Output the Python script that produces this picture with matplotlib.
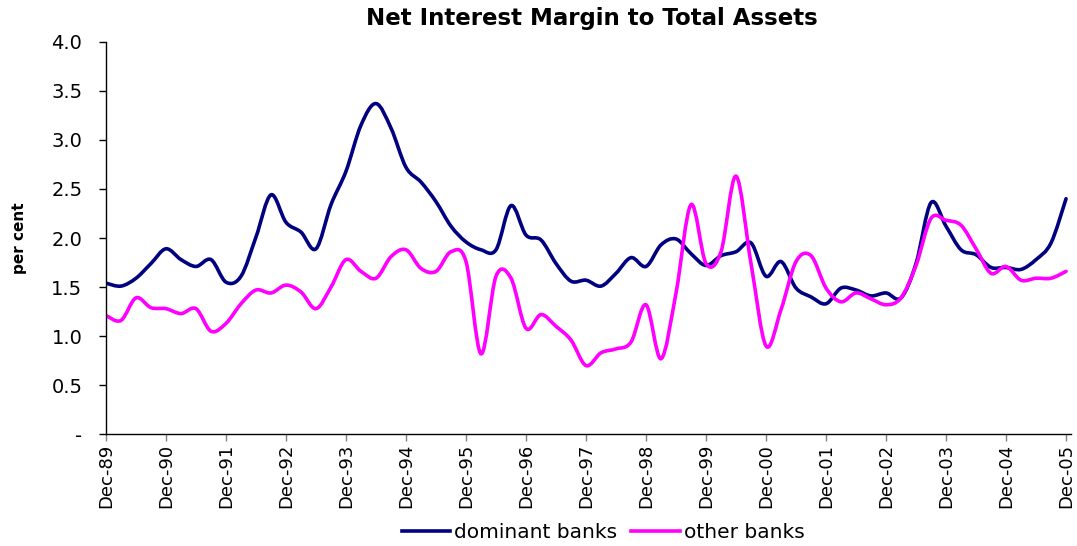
import matplotlib
matplotlib.use("Agg")
import matplotlib.pyplot as plt
from matplotlib.path import Path
from matplotlib.patches import PathPatch
from matplotlib.lines import Line2D

# Quarterly net interest margin (% of total assets), Dec-89 .. Dec-05
dominant_banks = [1.54, 1.51, 1.59, 1.74, 1.89, 1.78, 1.71, 1.78, 1.55, 1.61,
                  2.01, 2.44, 2.16, 2.06, 1.89, 2.34, 2.68, 3.15, 3.37, 3.12,
                  2.72, 2.57, 2.37, 2.12, 1.96, 1.88, 1.88, 2.33, 2.03, 1.98,
                  1.74, 1.56, 1.57, 1.51, 1.64, 1.80, 1.71, 1.93, 1.99, 1.84,
                  1.72, 1.82, 1.86, 1.95, 1.61, 1.76, 1.49, 1.40, 1.33, 1.49,
                  1.47, 1.41, 1.44, 1.39, 1.74, 2.36, 2.12, 1.88, 1.83, 1.70,
                  1.70, 1.68, 1.78, 1.95, 2.40]
other_banks = [1.21, 1.16, 1.39, 1.29, 1.28, 1.23, 1.28, 1.05, 1.13, 1.33,
               1.47, 1.44, 1.52, 1.45, 1.28, 1.50, 1.78, 1.66, 1.59, 1.81,
               1.88, 1.69, 1.66, 1.86, 1.76, 0.82, 1.61, 1.59, 1.08, 1.22,
               1.10, 0.96, 0.70, 0.83, 0.87, 0.94, 1.32, 0.77, 1.44, 2.34,
               1.74, 1.86, 2.63, 1.74, 0.90, 1.27, 1.76, 1.82, 1.49, 1.35,
               1.44, 1.38, 1.32, 1.39, 1.72, 2.20, 2.18, 2.13, 1.89, 1.64,
               1.71, 1.57, 1.59, 1.59, 1.66]
year_labels = ["Dec-89", "Dec-90", "Dec-91", "Dec-92", "Dec-93", "Dec-94",
               "Dec-95", "Dec-96", "Dec-97", "Dec-98", "Dec-99", "Dec-00",
               "Dec-01", "Dec-02", "Dec-03", "Dec-04", "Dec-05"]
y_ticks = [0.0, 0.5, 1.0, 1.5, 2.0, 2.5, 3.0, 3.5, 4.0]
y_tick_labels = ["-", "0.5", "1.0", "1.5", "2.0", "2.5", "3.0", "3.5", "4.0"]

NAVY = "#000080"
MAGENTA = "#FF00FF"
FONT = "DejaVu Sans"


def smooth_path(values):
    """Smoothed line through every point (Catmull-Rom as cubic Beziers)."""
    pts = [(float(i), float(v)) for i, v in enumerate(values)]
    n = len(pts)
    verts = [pts[0]]
    codes = [Path.MOVETO]
    for i in range(n - 1):
        p0 = pts[i - 1] if i > 0 else pts[i]
        p1 = pts[i]
        p2 = pts[i + 1]
        p3 = pts[i + 2] if i + 2 < n else pts[i + 1]
        c1 = (p1[0] + (p2[0] - p0[0]) / 6.0, p1[1] + (p2[1] - p0[1]) / 6.0)
        c2 = (p2[0] - (p3[0] - p1[0]) / 6.0, p2[1] - (p3[1] - p1[1]) / 6.0)
        verts += [c1, c2, p2]
        codes += [Path.CURVE4] * 3
    return Path(verts, codes)


fig = plt.figure(figsize=(10.77, 5.46), dpi=100)
ax = fig.add_axes([0.0984, 0.2046, 0.9940 - 0.0984, 0.9236 - 0.2046])

for series, colour in ((dominant_banks, NAVY), (other_banks, MAGENTA)):
    ax.add_patch(PathPatch(smooth_path(series), facecolor="none",
                           edgecolor=colour, lw=2.6, capstyle="round",
                           joinstyle="round"))

ax.set_xlim(0, 64.3)
ax.set_ylim(0, 4.0)

ax.set_yticks(y_ticks)
ax.set_yticklabels(y_tick_labels, fontsize=14, family=FONT)
ax.set_xticks(range(0, 65, 4))
ax.set_xticklabels(year_labels, rotation=90, fontsize=13, family=FONT)
ax.tick_params(axis="y", direction="out", length=5, width=1, pad=12)
ax.tick_params(axis="x", direction="out", length=5, width=1, pad=2,
               color="#808080")

for side in ("top", "right"):
    ax.spines[side].set_visible(False)
for side in ("left", "bottom"):
    ax.spines[side].set_linewidth(1.0)
    ax.spines[side].set_color("black")

ax.set_ylabel("per cent", fontsize=11, fontweight="bold", family=FONT)
ax.yaxis.set_label_coords(-0.082, 0.5)

fig.text(0.55, 1 - 19 / 546, "Net Interest Margin to Total Assets",
         ha="center", va="center", fontsize=16.5, fontweight="bold",
         family=FONT)

handles = [Line2D([], [], color=NAVY, lw=2.6),
           Line2D([], [], color=MAGENTA, lw=2.6)]
fig.legend(handles, ["dominant banks", "other banks"], loc="center",
           bbox_to_anchor=(603 / 1077, 1 - 533 / 546), ncol=2,
           frameon=False, prop={"family": FONT, "size": 14.5},
           handlelength=2.4, handletextpad=0.2, columnspacing=0.7,
           borderpad=0, borderaxespad=0)

fig.savefig("out.png", dpi=100)
